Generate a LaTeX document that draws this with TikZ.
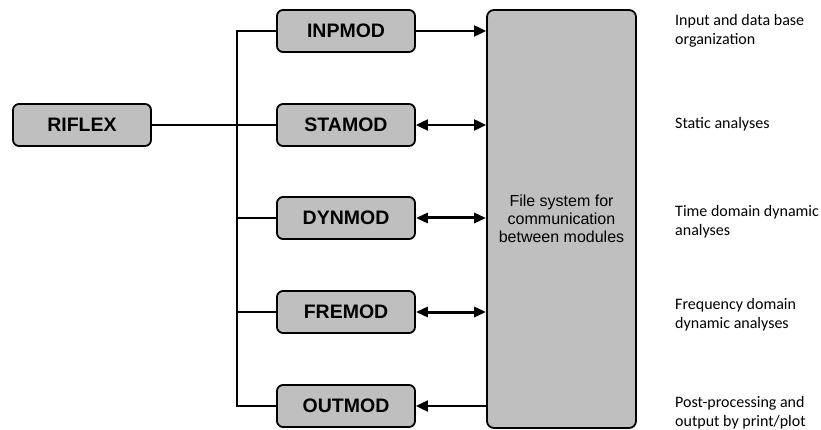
\documentclass[tikz,border=0pt]{standalone}
\usepackage{fontspec}
\setmainfont{Liberation Sans}
\newfontfamily\notefont{Carlito}
\usepackage{tikz}
\usetikzlibrary{positioning,arrows.meta,calc}

\begin{document}
\begin{tikzpicture}[x=1pt,y=-1pt,
  modbox/.style={draw,line width=1.8pt,fill=gray!50,rounded corners=6pt,minimum width=138pt,minimum height=42pt,inner sep=0pt,font=\fontsize{19.5}{21}\selectfont\bfseries},
  fsbox/.style={draw,line width=1.8pt,fill=gray!50,rounded corners=7pt,minimum width=149pt,minimum height=418pt,inner sep=0pt,align=center,font=\fontsize{16}{18}\selectfont},
  note/.style={anchor=west,align=left,inner sep=0pt,font=\notefont\fontsize{16}{19}\selectfont},
  link/.style={line width=1.8pt},
  one/.style={line width=2pt,-{Triangle[length=12pt,width=11pt]}},
  two/.style={line width=2pt,{Triangle[length=12pt,width=11pt]}-{Triangle[length=12pt,width=11pt]}},
  twothick/.style={line width=3pt,{Triangle[length=12pt,width=10pt]}-{Triangle[length=12pt,width=10pt]}}]
  \useasboundingbox (0,0) rectangle (821,430);
  % main program and its modules
  \node[modbox] (riflex) at (82,125) {RIFLEX};
  \node[modbox] (inp) at (346,31)  {INPMOD};
  \node[modbox] (sta) at (346,125) {STAMOD};
  \node[modbox] (dyn) at (346,218) {DYNMOD};
  \node[modbox] (fre) at (346,312) {FREMOD};
  \node[modbox] (out) at (346,406) {OUTMOD};
  \node[fsbox] (fs) at (561.5,219) {File system for\\communication\\between modules};
  \coordinate (trunk) at (237,218);
  % tree from RIFLEX
  \draw[link] (inp.west) -| (trunk) |- (out.west);
  \draw[link] (riflex.east) -- (sta.west);
  \foreach \m in {dyn,fre}{
    \draw[line width=1.4pt] (\m.west) -- (\m.west -| trunk);}
  % data flow to and from the file system
  \draw[one] (inp.east) -- (inp.east -| fs.west);
  \draw[two] (sta.east) -- (sta.east -| fs.west);
  \draw[twothick] (dyn.east) -- (dyn.east -| fs.west);
  \draw[twothick] (fre.east) -- (fre.east -| fs.west);
  \draw[one] (out.east -| fs.west) -- (out.east);
  % descriptions
  \node[note] (ninp) at (675,31)  {Input and data base\\organization};
  \node[note] (nsta) at (675,124) {Static analyses};
  \node[note] (ndyn) at (675,222) {Time domain dynamic\\analyses};
  \node[note] (nfre) at (675,315) {Frequency domain\\dynamic analyses};
  \node[note] (nout) at (675,413) {Post-processing and\\output by print/plot};
\end{tikzpicture}
\end{document}
